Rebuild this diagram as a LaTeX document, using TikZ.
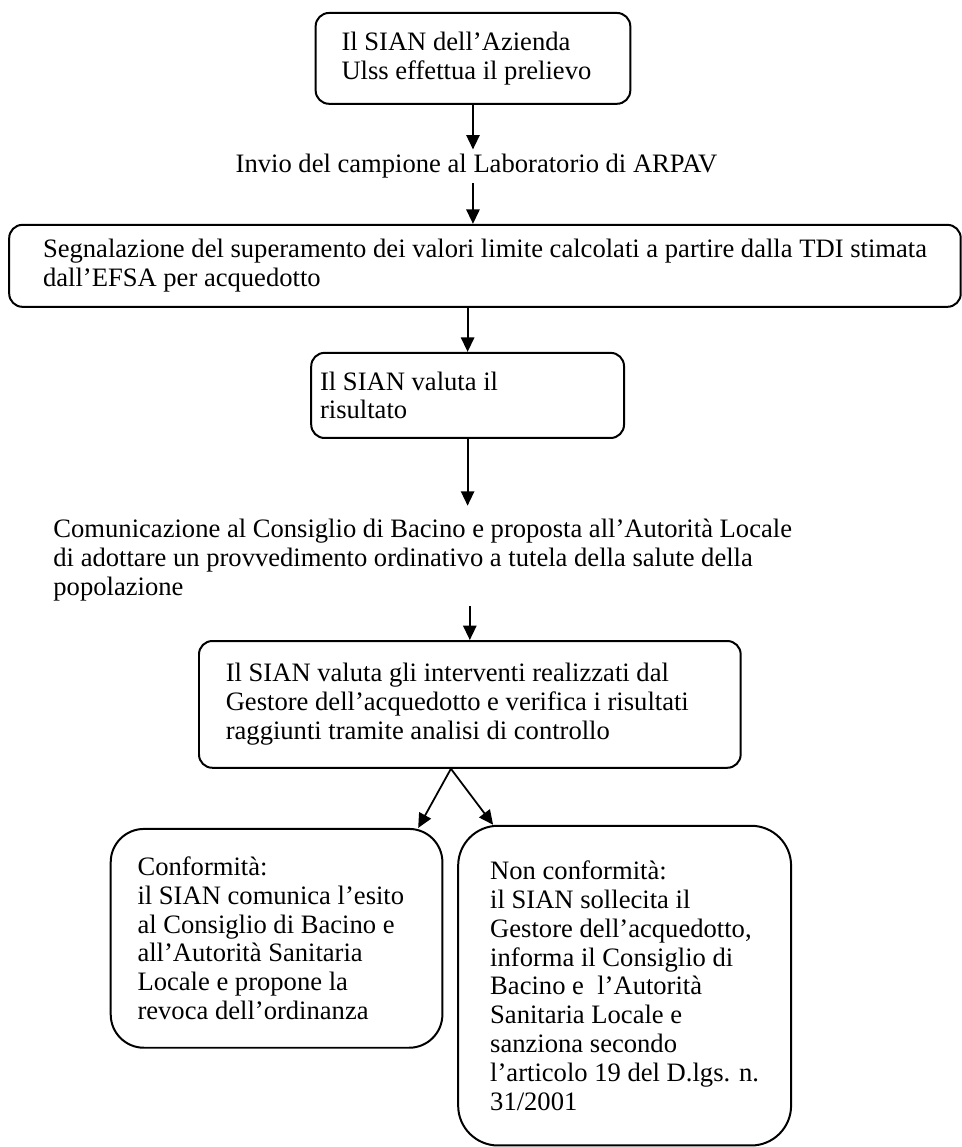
\documentclass[tikz,border=0pt]{standalone}
\usepackage{fontspec}
\setmainfont{Liberation Serif}
\usetikzlibrary{positioning, arrows.meta}

\begin{document}
\begin{tikzpicture}[
    font=\fontsize{12}{13}\selectfont,
    box/.style={
        draw,
        line width=0.9pt,
        rounded corners=6pt,
        anchor=north west,
        align=flush left,
        inner sep=2pt
    },
    roundbox/.style={
        box,
        rounded corners=15pt
    },
    label/.style={
        inner sep=2pt,
        align=flush left
    },
    arrow/.style={
        line width=0.8pt,
        -{Triangle[length=6.5pt, width=6pt]}
    }
]

    \useasboundingbox (0,0) rectangle (15.25,-18.19);

    % Sampling
    \node[box, minimum width=4.99cm, minimum height=1.44cm, text width=4.17cm]
        (prelievo) at (4.99,-0.19)
        {Il SIAN dell'Azienda\\Ulss effettua il prelievo};
    \node[label, anchor=base west] (invio) at (3.66,-2.74)
        {Invio del campione al Laboratorio di ARPAV};

    % Result
    \node[box, minimum width=15.09cm, minimum height=1.30cm]
        (segnalazione) at (0.13,-3.55)
        {Segnalazione del superamento dei valori limite calcolati a partire dalla TDI stimata\\dall'EFSA per acquedotto};
    \node[box, minimum width=4.96cm, minimum height=1.35cm, text width=4.68cm]
        (risultato) at (4.92,-5.58)
        {Il SIAN valuta il\\risultato};
    \node[label, anchor=north west] (comunicazione) at (0.77,-8.16)
        {Comunicazione al Consiglio di Bacino e proposta all'Autorità Locale\\di adottare un provvedimento ordinativo a tutela della salute della\\popolazione};

    % Checks
    \node[box, minimum width=8.59cm, minimum height=2.01cm, text width=7.74cm]
        (interventi) at (3.14,-10.15)
        {Il SIAN valuta gli interventi realizzati dal\\Gestore dell'acquedotto e verifica i risultati\\raggiunti tramite analisi di controllo};
    \coordinate (fork) at ([xshift=-0.30cm]interventi.south);

    % Outcomes
    \node[roundbox, minimum width=5.26cm, minimum height=3.47cm, text width=4.41cm]
        (conforme) at (1.74,-13.13)
        {Conformità:\\il SIAN comunica l'esito\\al Consiglio di Bacino e\\all'Autorità Sanitaria\\Locale e propone la\\revoca dell'ordinanza};
    \node[roundbox, rounded corners=18pt, minimum width=5.28cm, minimum height=5.07cm]
        (nonconforme) at (7.25,-13.08)
        {Non conformità:\\il SIAN sollecita il\\Gestore dell'acquedotto,\\informa il Consiglio di\\Bacino e~ l'Autorità\\Sanitaria Locale e\\sanziona secondo\\l'articolo 19 del D.lgs. n.\\31/2001};

    % Arrows
    \draw[arrow] (prelievo.south) -- (prelievo.south |- invio.north);
    \draw[arrow] (prelievo.south |- invio.south) -- (prelievo.south |- segnalazione.north);
    \draw[arrow] (risultato.north |- segnalazione.south) -- (risultato.north);
    \draw[arrow, shorten >=4pt] (risultato.south) -- (risultato.south |- comunicazione.north);
    \draw[arrow] (interventi.north |- comunicazione.south) -- (interventi.north);
    \draw[arrow] (fork) -- ([xshift=-0.40cm]conforme.north east);
    \draw[arrow] (fork) -- ([xshift=0.57cm]nonconforme.north west);

\end{tikzpicture}
\end{document}
